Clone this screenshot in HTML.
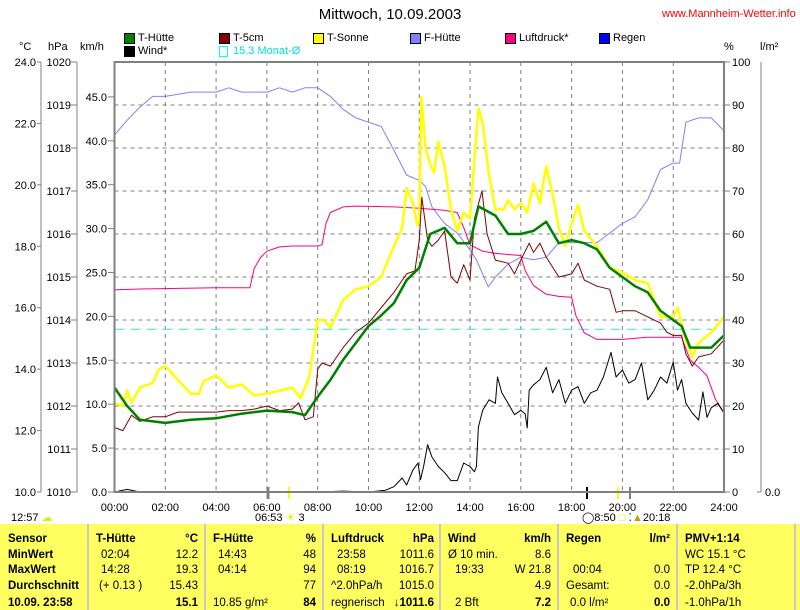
<!DOCTYPE html>
<html><head><meta charset="utf-8"><style>
body{margin:0;width:800px;height:610px;background:#fff;overflow:hidden;font-family:"Liberation Sans",sans-serif;position:relative}
.t{position:absolute;font-size:11px;white-space:nowrap;line-height:12px}
.b{font-weight:bold}
.tc{position:absolute;font-size:11.5px;white-space:nowrap;line-height:14px;color:#000}
.sq{position:absolute;width:9px;height:9px;border:1px solid #000}
</style></head><body>
<div class="t" style="left:300px;top:6px;width:180px;text-align:center;font-size:15px;line-height:18px">Mittwoch, 10.09.2003</div>
<div class="t" style="left:662px;top:8px;color:#ff0000">www.Mannheim-Wetter.info</div>

<div>
<div class="sq" style="left:124px;top:33px;background:#008000"></div><div class="t" style="left:138px;top:32px">T-Hütte</div>
<div class="sq" style="left:219px;top:33px;background:#800000"></div><div class="t" style="left:233px;top:32px">T-5cm</div>
<div class="sq" style="left:313px;top:33px;background:#ffff00"></div><div class="t" style="left:327px;top:32px">T-Sonne</div>
<div class="sq" style="left:410px;top:33px;background:#8080ff"></div><div class="t" style="left:424px;top:32px">F-Hütte</div>
<div class="sq" style="left:505px;top:33px;background:#ff0080"></div><div class="t" style="left:519px;top:32px">Luftdruck*</div>
<div class="sq" style="left:599px;top:33px;background:#0000ff"></div><div class="t" style="left:613px;top:32px">Regen</div>
<div class="sq" style="left:124px;top:46px;background:#000"></div><div class="t" style="left:138px;top:45px">Wind*</div>
<div class="sq" style="left:219px;top:46px;border-color:#00ffff;width:7px"></div><div class="t" style="left:233px;top:45px;color:#00e0e0">15.3 Monat-Ø</div>
</div>

<div class="t" style="left:19px;top:41px">°C</div>
<div class="t" style="left:48px;top:41px">hPa</div>
<div class="t" style="left:80px;top:41px">km/h</div>
<div class="t" style="left:724px;top:41px">%</div>
<div class="t" style="left:760px;top:41px">l/m²</div>

<svg id="chart" width="800" height="522" style="position:absolute;left:0;top:0" font-family="Liberation Sans, sans-serif" font-size="11"></svg>

<div class="t" style="left:11px;top:512px">12:57 <span style="color:#e8e800">☁</span></div>
<div class="t" style="left:255px;top:512px">06:53 <span style="color:#e8e800">☀</span> 3</div>
<div class="t" style="left:582px;top:512px">◯8:50 <span style="color:#e8e800">□</span> <span style="color:#0000ff">⁚</span><span style="color:#c0a000">▲</span>20:18</div>

<div style="position:absolute;left:0;top:524px;width:800px;height:86px;background:#ffff60">
<div style="position:absolute;left:87px;top:0;width:2px;height:86px;background:#c8c8c8"></div>
<div style="position:absolute;left:204px;top:0;width:2px;height:86px;background:#c8c8c8"></div>
<div style="position:absolute;left:322px;top:0;width:2px;height:86px;background:#c8c8c8"></div>
<div style="position:absolute;left:439px;top:0;width:2px;height:86px;background:#c8c8c8"></div>
<div style="position:absolute;left:557px;top:0;width:2px;height:86px;background:#c8c8c8"></div>
<div style="position:absolute;left:676px;top:0;width:2px;height:86px;background:#c8c8c8"></div>
<div style="position:absolute;left:794px;top:0;width:2px;height:86px;background:#c8c8c8"></div>
</div>
<div id="cells"></div>

<script>
const NS='http://www.w3.org/2000/svg';
const svg=document.getElementById('chart');
const X0=114.5,X1=724,Y0=492,YT=62;
function xS(t){return X0+t*(X1-X0)/24;}
function yT(v){return Y0-(v-10)*(Y0-YT)/14;}
function yP(p){return Y0-(p-1010)*(Y0-YT)/10;}
function yW(v){return Y0-v*8.78;}
function yH(h){return Y0-h*(Y0-YT)/100;}

const tempTicks=['10.0','12.0','14.0','16.0','18.0','20.0','22.0','24.0'];
const presTicks=['1010','1011','1012','1013','1014','1015','1016','1017','1018','1019','1020'];
const windTicks=['0.0','5.0','10.0','15.0','20.0','25.0','30.0','35.0','40.0','45.0'];
const humTicks=['0','10','20','30','40','50','60','70','80','90','100'];
const timeTicks=['00:00','02:00','04:00','06:00','08:00','10:00','12:00','14:00','16:00','18:00','20:00','22:00','24:00'];
const monatAvg=15.3;

const tHuetteT=[0,0.5,1,2,3,4,5,6,7,7.5,8,8.5,9,9.5,10,10.5,11,11.5,12,12.43,13,13.5,14,14.33,15,15.5,16,16.5,17,17.5,18,18.5,19,19.5,20,20.5,21,21.5,22,22.33,22.67,23.5,24];
const tHuetteV=[13.4,12.8,12.35,12.25,12.35,12.4,12.55,12.65,12.6,12.5,13.1,13.65,14.3,14.85,15.4,15.75,16.15,16.9,17.3,18.4,18.6,18.1,18.1,19.3,19.0,18.4,18.4,18.5,18.8,18.1,18.2,18.1,17.9,17.3,17.0,16.7,16.5,15.9,15.6,15.4,14.7,14.7,15.1];

const t5cmT=[0,0.33,0.67,1,1.5,2,2.5,3,4,4.5,5,5.5,6,6.5,7,7.25,7.5,7.83,8,8.17,8.5,9,9.5,10,10.5,11,11.5,11.83,12,12.1,12.33,12.5,12.75,13,13.25,13.5,13.75,14,14.17,14.47,14.67,15,15.5,15.75,16,16.33,16.5,16.75,17,17.5,18,18.25,18.5,19,19.5,19.75,20,20.5,21,21.5,21.75,22,22.33,22.5,22.75,23,23.5,24];
const t5cmV=[12.1,12.0,12.5,12.3,12.45,12.45,12.6,12.6,12.6,12.65,12.65,12.7,12.8,12.65,12.7,12.9,12.35,12.45,14.0,14.2,14.1,14.7,15.2,15.5,16.0,16.5,17.1,17.2,18.2,19.6,18.2,18.0,18.2,18.5,17.0,16.8,17.4,16.9,18.9,19.8,18.4,17.55,17.45,17.1,17.55,18.1,17.8,18.1,17.65,17.0,17.1,17.45,16.9,16.7,16.6,15.85,15.9,15.9,15.7,15.5,15.2,15.1,15.1,14.5,14.1,14.4,14.5,14.95];

const tSonneT=[0,0.33,0.5,0.67,1,1.5,1.75,2,2.5,3,3.33,3.5,4,4.5,5,5.5,6,6.5,7,7.33,7.67,8,8.25,8.5,9,9.5,10,10.5,11,11.33,11.5,11.75,11.92,12,12.08,12.25,12.42,12.58,12.75,13,13.25,13.5,13.75,14,14.17,14.33,14.5,14.75,15,15.33,15.5,15.75,16,16.25,16.5,16.75,17,17.25,17.5,17.75,18,18.25,18.5,19,19.5,20,20.5,21,21.5,22,22.17,22.5,22.75,23,23.5,24];
const tSonneV=[12.9,12.8,13.3,12.9,13.4,13.55,14.0,14.1,13.65,13.2,13.2,13.6,13.8,13.4,13.5,13.15,13.2,13.3,13.4,13.05,13.75,15.6,15.6,15.35,16.25,16.6,16.7,17.0,18.0,18.6,19.9,19.4,18.7,18.75,22.85,21.2,20.7,20.4,21.4,20.6,19.2,18.5,19.1,18.9,20.8,22.5,22.0,20.3,19.2,19.2,19.5,19.2,19.4,19.1,20.05,19.4,20.6,19.7,18.6,18.0,18.75,19.35,18.5,18.0,17.3,17.15,16.9,16.8,15.7,15.7,16.0,14.95,14.4,14.85,15.2,15.7];

const fHuetteT=[0,0.5,1,1.5,2,3,4,4.5,5,6,6.5,7,7.5,8,8.5,9,9.5,10,10.5,11,11.5,12,12.25,12.5,13,13.5,14,14.25,14.72,15,15.5,16,16.5,17,17.5,18,18.5,19,19.5,20,20.5,21,21.5,22,22.25,22.5,23,23.5,24];
const fHuetteV=[83,86.5,89.5,92,92,93,93,94,93,93,94,93,94,94,92,89,87,86,85,79.5,73.7,72.5,71,66.3,62.5,60.2,56.3,54,47.7,50,53,54.6,54,54.6,58,58,58,58,60.2,62.5,64,68,75,76.5,76.5,86,87,87,84];

const presT=[0,1,4,5.33,5.5,5.75,6,6.5,7,8,8.17,8.33,8.5,9,9.5,11,12,13,13.5,13.75,14,14.5,15,16,16.17,16.5,17,17.5,18,18.17,18.5,19,20,21,22,22.33,22.67,23,23.33,23.67,24];
const presV=[1014.7,1014.72,1014.75,1014.75,1015.2,1015.45,1015.6,1015.7,1015.72,1015.72,1015.75,1016.25,1016.5,1016.63,1016.65,1016.63,1016.6,1016.55,1016.5,1016.15,1015.75,1015.6,1015.55,1015.5,1015.15,1014.8,1014.6,1014.55,1014.53,1014.1,1013.7,1013.55,1013.55,1013.6,1013.6,1013.6,1013.07,1012.9,1012.7,1012.15,1011.85];

const windT=[0,0.5,1,2,4,6,8,9,10,10.67,11,11.33,11.5,11.75,11.95,12.05,12.17,12.33,12.5,12.75,13,13.25,13.5,13.75,14,14.17,14.25,14.33,14.5,14.75,15,15.08,15.25,15.5,15.75,16,16.17,16.25,16.33,16.5,16.75,17,17.25,17.5,17.75,18,18.25,18.5,18.75,19,19.25,19.55,19.75,20,20.25,20.5,20.75,21,21.25,21.5,21.75,22,22.17,22.33,22.5,22.75,23,23.17,23.33,23.5,23.75,24];
const windV=[0,0.3,0,0,0,0,0,0.1,0,0.2,0.6,1.6,0.8,2.5,3.3,1.4,2.9,5.4,4.0,2.9,2.2,1.3,1.3,3.3,2.9,2.3,2.9,7.4,9.3,10.5,10.1,13.1,11.3,10.1,8.8,9.3,8.9,7.3,11.6,12.2,12.8,14.2,11.3,12.8,10.1,11.6,12.0,10.1,11.3,11.6,13.1,15.9,13.1,13.9,12.4,12.8,14.7,10.5,11.6,13.1,12.4,14.8,11.6,12.8,10.1,9.0,8.2,11.4,8.5,9.6,10.1,9.0];

function mk(tag,attrs){const e=document.createElementNS(NS,tag);for(const k in attrs)e.setAttribute(k,attrs[k]);return e;}
function line(x1,y1,x2,y2,stroke,w,dash){const e=mk('line',{x1:x1,y1:y1,x2:x2,y2:y2,stroke:stroke,'stroke-width':w});if(dash)e.setAttribute('stroke-dasharray',dash);svg.appendChild(e);return e;}
function text(x,y,s,anchor,fill){const e=mk('text',{x:x,y:y,'text-anchor':anchor||'start',fill:fill||'#000'});e.textContent=s;svg.appendChild(e);return e;}

for(let k=1;k<10;k++){const y=YT+k*(Y0-YT)/10;const g=line(X0,y,X1,y,'#808080',1,'4,4');

}
for(let k=1;k<12;k++){const x=xS(k*2);const g=line(x,YT,x,Y0,'#808080',1,'4,4');

}

line(41,YT,41,Y0,'#808080',1);line(77,YT,77,Y0,'#808080',1);
tempTicks.forEach((s,i)=>{const y=yT(10+i*2);line(37,y,41,y,'#808080',1);const e=text(36,y+4,s,'end');

});
presTicks.forEach((s,i)=>{const y=yP(1010+i);line(71,y,77,y,'#808080',1);const e=text(71,y+4,s,'end');

});
windTicks.forEach((s,i)=>{const y=yW(i*5);line(108,y,114,y,'#808080',1);const e=text(107,y+4,s,'end');

});
humTicks.forEach((s,i)=>{const y=yH(i*10);line(X1,y,X1+6,y,'#808080',1);const e=text(X1+8,y+4,s,'start');

});
line(761,YT,761,Y0,'#808080',1);line(757,Y0,761,Y0,'#808080',1);
const rl=text(765,Y0+4,'0.0','start');


timeTicks.forEach((s,i)=>{const e=text(xS(i*2),511,s,'middle');

});

const ma=line(X0,yT(monatAvg),X1,yT(monatAvg),'#40e0e0',1,'10,6');



function series(ts,vs,yf,color,w,name){const pts=ts.map((t,i)=>xS(t).toFixed(1)+','+yf(vs[i]).toFixed(1)).join(' ');
const p=mk('polyline',{points:pts,fill:'none',stroke:color,'stroke-width':w,'stroke-linejoin':'round'});


svg.appendChild(p);}
series(fHuetteT,fHuetteV,yH,'#8080ff',1,'f-huette-line');
series(presT,presV,yP,'#ff0080',1,'luftdruck-line');
series(windT,windV,yW,'#000000',1,'wind-line');
series(tSonneT,tSonneV,yT,'#ffff00',2.5,'t-sonne-line');
series(t5cmT,t5cmV,yT,'#800000',1,'t-5cm-line');
series(tHuetteT,tHuetteV,yT,'#008000',2.5,'t-huette-line');

[[268,'#808080',3],[289,'#ffff00',2],[587,'#000',2],[618,'#ffff00',2],[630,'#808080',2]].forEach(m=>{const e=line(m[0],Y0-5,m[0],Y0+7,m[1],m[2]);

});

const fr=mk('rect',{x:X0,y:YT,width:X1-X0,height:Y0-YT,fill:'none',stroke:'#808080','stroke-width':2});


svg.appendChild(fr);

const cells=document.getElementById('cells');
const rows=[532,548,563,579,596];
function cell(x,r,s,right,bold,name){const d=document.createElement('div');d.className='tc'+(bold?' b':'');
d.style.top=rows[r]+'px';
if(right){d.style.right=(800-x)+'px';}else{d.style.left=x+'px';}
d.textContent=s;


cells.appendChild(d);}
cell(8,0,'Sensor',0,1,'row-header');cell(8,1,'MinWert',0,1,'row-header');cell(8,2,'MaxWert',0,1,'row-header');cell(8,3,'Durchschnitt',0,1,'row-header');cell(8,4,'10.09. 23:58',0,1,'row-header');
cell(96,0,'T-Hütte',0,1,'col-header');cell(198,0,'°C',1,1,'col-unit');
cell(101,1,'02:04',0,0,'cell');cell(198,1,'12.2',1,0,'cell');
cell(101,2,'14:28',0,0,'cell');cell(198,2,'19.3',1,0,'cell');
cell(99,3,'(+ 0.13 )',0,0,'cell');cell(198,3,'15.43',1,0,'cell');
cell(198,4,'15.1',1,1,'cell');
cell(213,0,'F-Hütte',0,1,'col-header');cell(316,0,'%',1,1,'col-unit');
cell(218,1,'14:43',0,0,'cell');cell(316,1,'48',1,0,'cell');
cell(218,2,'04:14',0,0,'cell');cell(316,2,'94',1,0,'cell');
cell(316,3,'77',1,0,'cell');
cell(213,4,'10.85 g/m²',0,0,'cell');cell(316,4,'84',1,1,'cell');
cell(331,0,'Luftdruck',0,1,'col-header');cell(434,0,'hPa',1,1,'col-unit');
cell(337,1,'23:58',0,0,'cell');cell(434,1,'1011.6',1,0,'cell');
cell(337,2,'08:19',0,0,'cell');cell(434,2,'1016.7',1,0,'cell');
cell(331,3,'^2.0hPa/h',0,0,'cell');cell(434,3,'1015.0',1,0,'cell');
cell(331,4,'regnerisch',0,0,'cell');cell(434,4,'↓1011.6',1,1,'cell');
cell(448,0,'Wind',0,1,'col-header');cell(551,0,'km/h',1,1,'col-unit');
cell(448,1,'Ø 10 min.',0,0,'cell');cell(551,1,'8.6',1,0,'cell');
cell(455,2,'19:33',0,0,'cell');cell(551,2,'W 21.8',1,0,'cell');
cell(551,3,'4.9',1,0,'cell');
cell(455,4,'2 Bft',0,0,'cell');cell(551,4,'7.2',1,1,'cell');
cell(566,0,'Regen',0,1,'col-header');cell(670,0,'l/m²',1,1,'col-unit');
cell(573,2,'00:04',0,0,'cell');cell(670,2,'0.0',1,0,'cell');
cell(566,3,'Gesamt:',0,0,'cell');cell(670,3,'0.0',1,0,'cell');
cell(570,4,'0.0 l/m²',0,0,'cell');cell(670,4,'0.0',1,1,'cell');
cell(685,0,'PMV+1:14',0,1,'col-header');
cell(685,1,'WC 15.1 °C',0,0,'cell');cell(685,2,'TP 12.4 °C',0,0,'cell');
cell(685,3,'-2.0hPa/3h',0,0,'cell');cell(685,4,'-1.0hPa/1h',0,0,'cell');
</script>
</body></html>
